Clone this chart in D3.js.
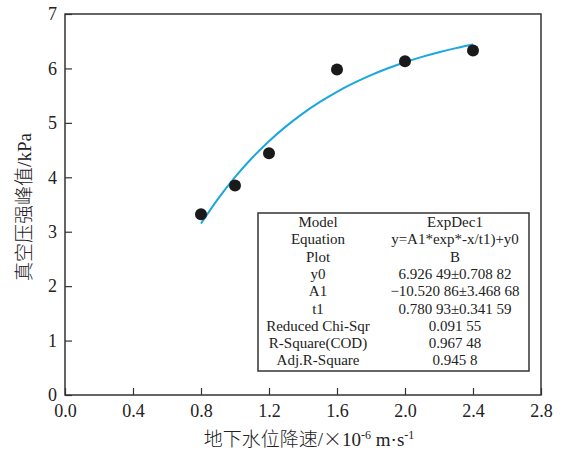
<!DOCTYPE html>
<html>
<head>
<meta charset="utf-8">
<script src="https://cdn.jsdelivr.net/npm/d3@7"></script>
<style>
  body { margin: 0; background: #fff; }
  svg, svg text { font-family: "Liberation Serif", "Times New Roman", serif; }
  .cjk { font-family: "Noto Sans CJK SC", sans-serif; font-weight: 300; }
</style>
</head>
<body>
<svg id="chart" width="565" height="450"></svg>
<script>
// measured points
const xData = [0.8, 1.0, 1.2, 1.6, 2.0, 2.4]
const yData = [3.32, 3.85, 4.44, 5.98, 6.13, 6.33]

// fitted ExpDec1 curve
const fitX = [0.8, 0.9, 1.0, 1.1, 1.2, 1.3, 1.4, 1.5, 1.6, 1.7, 1.8, 1.9, 2.0, 2.1, 2.2, 2.3, 2.4]
const fitY = [3.149, 3.603, 4.003, 4.354, 4.663, 4.935, 5.175, 5.385, 5.571, 5.733, 5.877, 6.003, 6.114, 6.212, 6.298, 6.373, 6.440]

const xTicks = [0.0, 0.4, 0.8, 1.2, 1.6, 2.0, 2.4, 2.8]
const yTicks = [0, 1, 2, 3, 4, 5, 6, 7]

const tableKeys = ["Model", "Equation", "Plot", "y0", "A1", "t1", "Reduced Chi-Sqr", "R-Square(COD)", "Adj.R-Square"]
const tableVals = ["ExpDec1", "y=A1*exp*-x/t1)+y0", "B", "6.926 49±0.708 82", "\u221210.520 86±3.468 68",
    "0.780 93±0.341 59", "0.091 55", "0.967 48", "0.945 8"]

const margin = {top: 14, right: 24, bottom: 55, left: 65}
const width = 565 - margin.left - margin.right
const height = 450 - margin.top - margin.bottom

const svg = d3.select("#chart")
const g = svg.append("g")
    .attr("transform", "translate(" + margin.left + "," + margin.top + ")")

const x = d3.scaleLinear().domain([0, 2.8]).range([0, width])
const y = d3.scaleLinear().domain([0, 7]).range([height, 0])

const axisColor = "#333"

// Add the X Axis (ticks pointing inward)
const xAxis = g.append("g")
    .attr("transform", "translate(0," + height + ")")
    .call(d3.axisBottom(x).tickValues(xTicks).tickFormat(d3.format(".1f")).tickSizeInner(-7).tickSizeOuter(0))
    .attr("font-family", null)
    .attr("font-size", null)
xAxis.select(".domain").remove()
xAxis.selectAll("line").attr("stroke", axisColor).attr("stroke-width", 1.2)
xAxis.selectAll("text")
    .attr("y", 9)
    .attr("dy", "0.71em")
    .style("font-size", "18px")
    .attr("fill", "#222")

// Add the Y Axis
const yAxis = g.append("g")
    .call(d3.axisLeft(y).tickValues(yTicks).tickFormat(d3.format("d")).tickSizeInner(-7).tickSizeOuter(0))
    .attr("font-family", null)
    .attr("font-size", null)
yAxis.select(".domain").remove()
yAxis.selectAll("line").attr("stroke", axisColor).attr("stroke-width", 1.2)
yAxis.selectAll("text")
    .attr("x", -8)
    .style("font-size", "18px")
    .attr("fill", "#222")

// frame
g.append("rect")
    .attr("width", width)
    .attr("height", height)
    .attr("fill", "none")
    .attr("stroke", axisColor)
    .attr("stroke-width", 1.5)

// fit curve
const line = d3.line()
    .x((d, i) => x(fitX[i]))
    .y(d => y(d))
    .curve(d3.curveMonotoneX)
g.append("path")
    .datum(fitY)
    .attr("d", line)
    .attr("fill", "none")
    .attr("stroke", "#1ba6e1")
    .attr("stroke-width", 2)

// points
g.selectAll("circle")
    .data(yData)
    .enter()
    .append("circle")
    .attr("cx", (d, i) => x(xData[i]))
    .attr("cy", d => y(d))
    .attr("r", 6)
    .attr("fill", "#1a1a1a")

// results table
const tx = 193, ty = 199, tw = 271, th = 158
const table = g.append("g").attr("transform", "translate(" + tx + "," + ty + ")")
table.append("rect")
    .attr("width", tw)
    .attr("height", th)
    .attr("fill", "#fff")
    .attr("stroke", axisColor)
    .attr("stroke-width", 1.5)
const rowH = 17.3
table.selectAll("text.key")
    .data(tableKeys)
    .enter()
    .append("text")
    .attr("class", "key")
    .attr("x", 60)
    .attr("y", (d, i) => 14 + i * rowH)
    .attr("text-anchor", "middle")
    .style("font-size", "15px")
    .attr("fill", "#222")
    .text(d => d)
table.selectAll("text.val")
    .data(tableVals)
    .enter()
    .append("text")
    .attr("class", "val")
    .attr("x", 197)
    .attr("y", (d, i) => 14 + i * rowH)
    .attr("text-anchor", "middle")
    .style("font-size", "15px")
    .attr("fill", "#222")
    .text(d => d)

// axis labels
const yLabel = svg.append("text")
    .attr("transform", "translate(31,207) rotate(-90)")
    .attr("text-anchor", "middle")
    .style("font-size", "19px")
    .attr("fill", "#222")
yLabel.append("tspan").attr("class", "cjk").text("真空压强峰值")
yLabel.append("tspan").text("/kPa")

const xLabel = svg.append("text")
    .attr("x", 309)
    .attr("y", 446)
    .attr("text-anchor", "middle")
    .style("font-size", "19px")
    .attr("fill", "#222")
xLabel.append("tspan").attr("class", "cjk").text("地下水位降速")
xLabel.append("tspan").text("/")
xLabel.append("tspan").attr("class", "cjk").text("×")
xLabel.append("tspan").text("10")
xLabel.append("tspan").attr("dy", -7).style("font-size", "12px").text("-6")
xLabel.append("tspan").attr("dy", 7).text(" m·s")
xLabel.append("tspan").attr("dy", -7).style("font-size", "12px").text("-1")
</script>
</body>
</html>
